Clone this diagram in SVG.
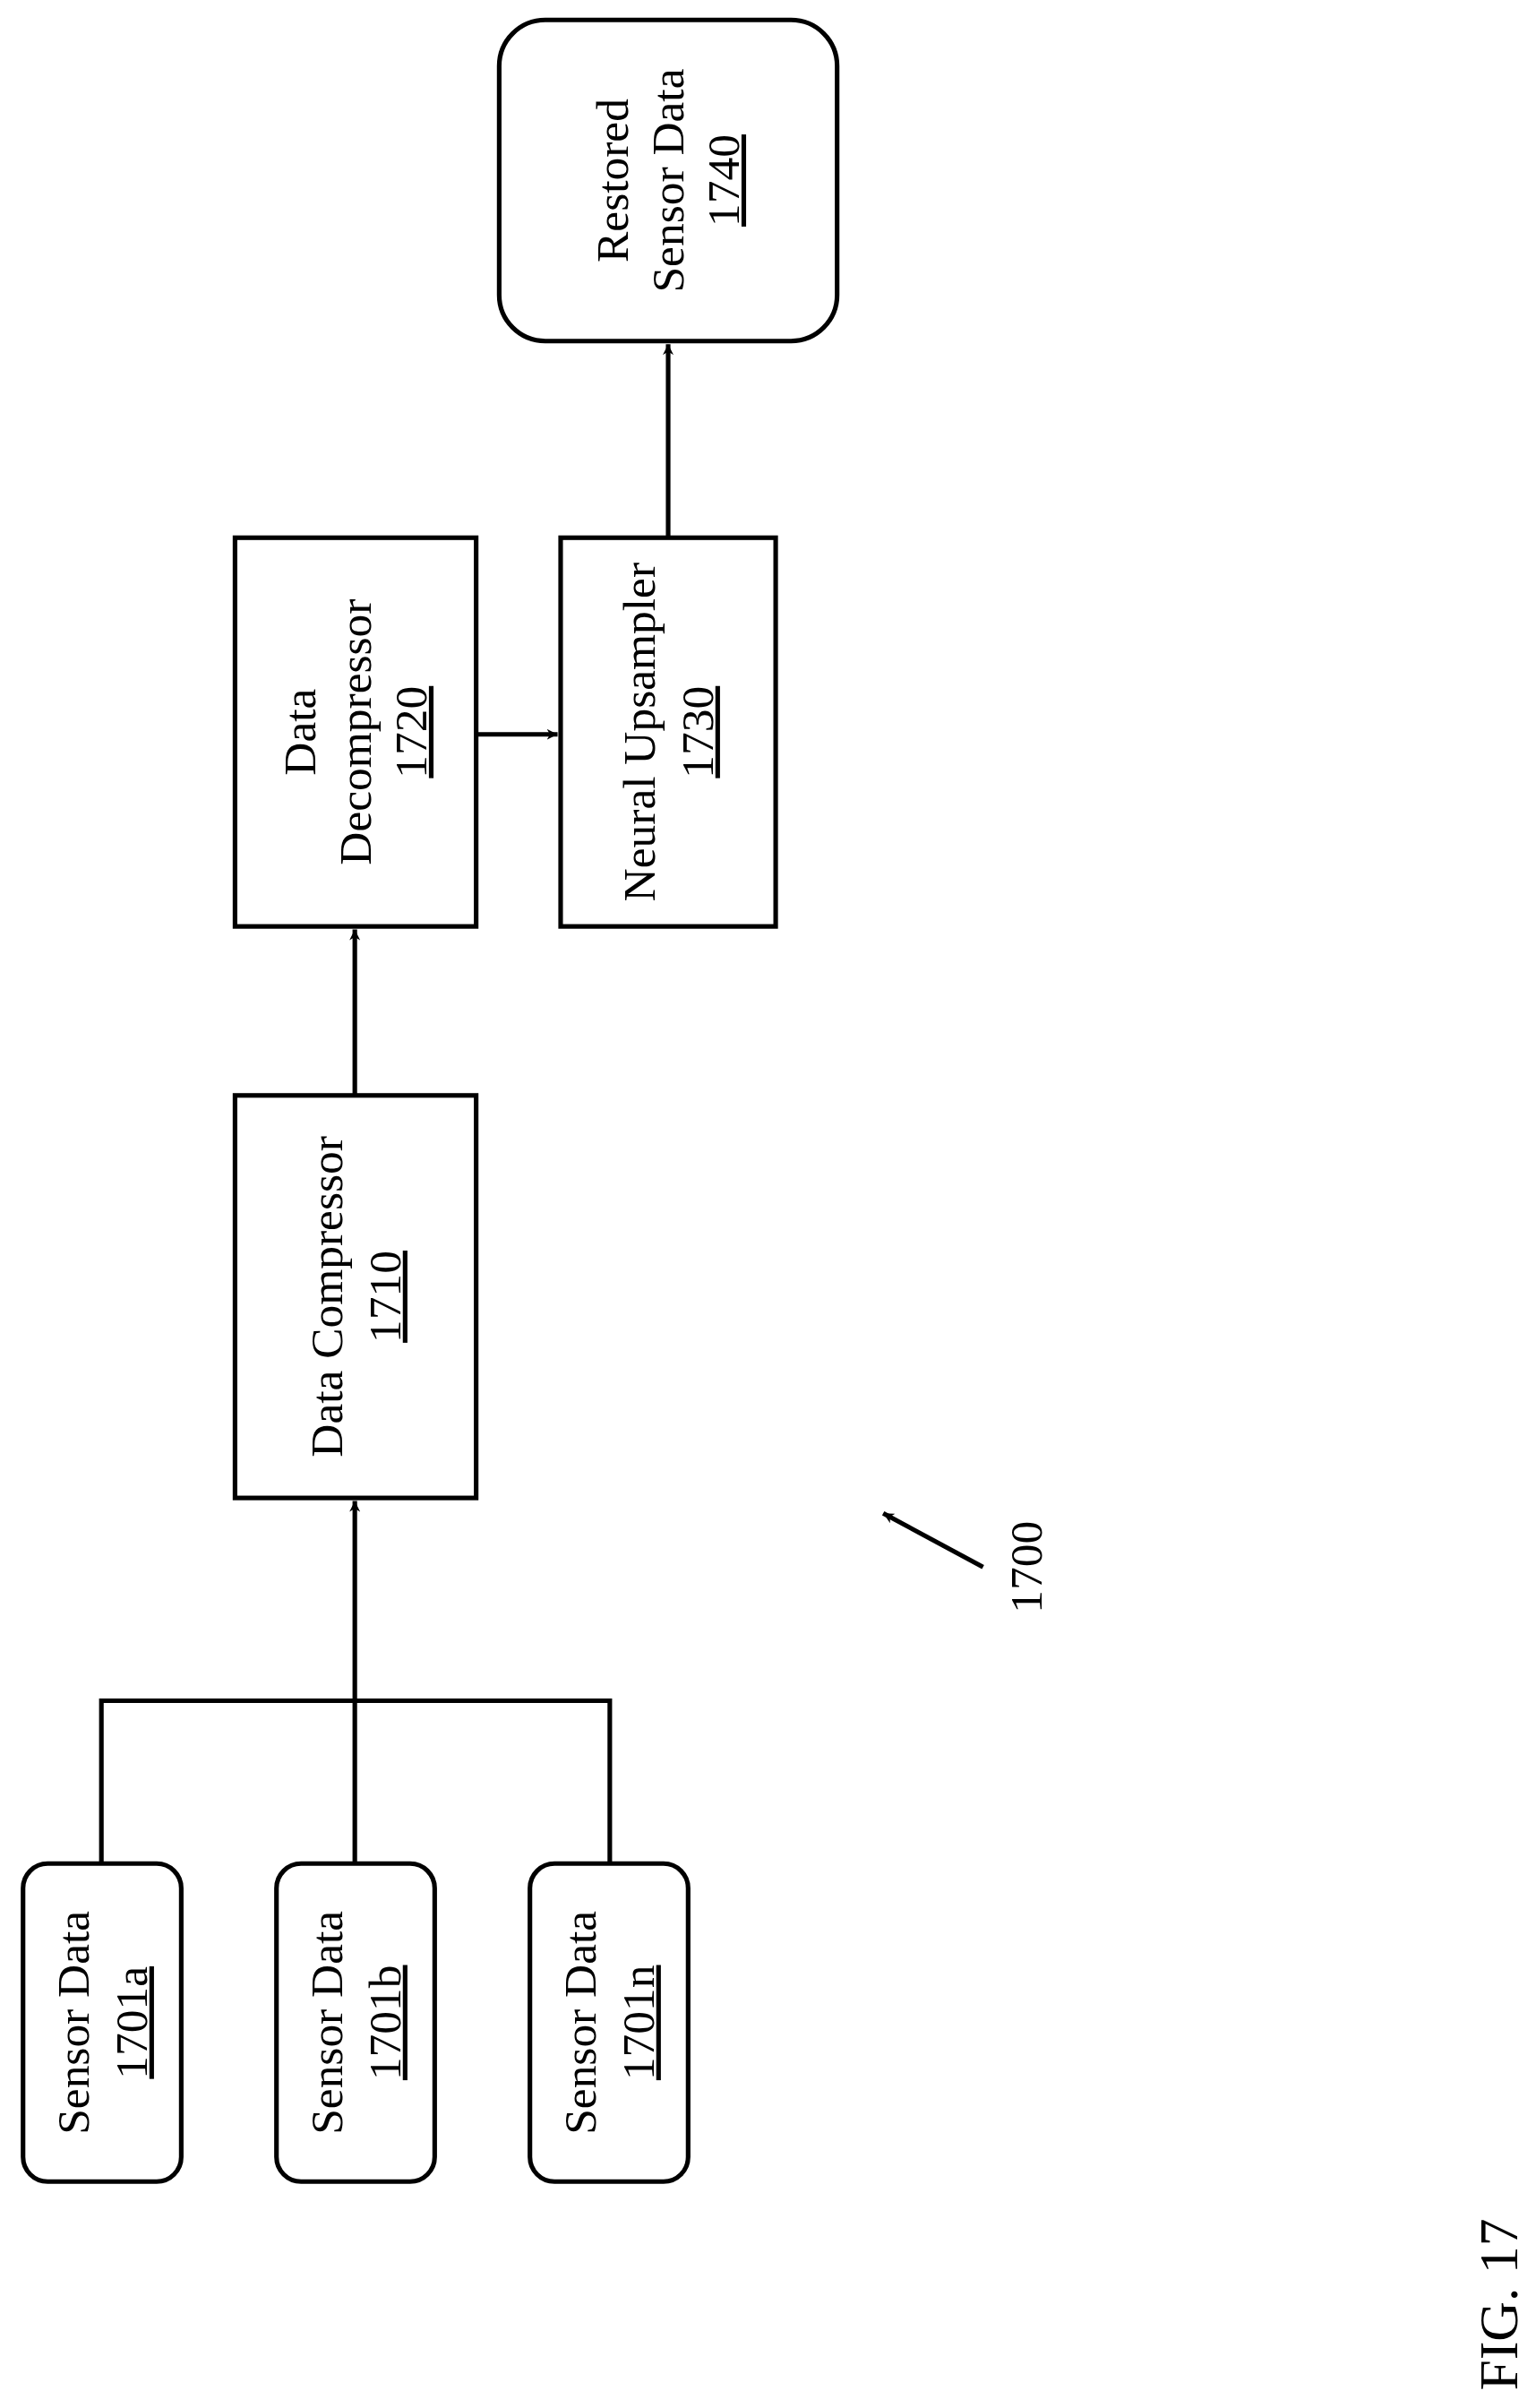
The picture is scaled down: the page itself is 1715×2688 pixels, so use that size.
<svg xmlns="http://www.w3.org/2000/svg" width="1715" height="2688" viewBox="0 0 1715 2688">
<style>
.box{fill:#fff;stroke:#000;stroke-width:3}
.ln{fill:none;stroke:#000;stroke-width:3}
text{font-family:"Liberation Serif","Times New Roman",serif;font-size:30px;fill:#000;text-anchor:middle}
.u{text-decoration:underline}
</style>
<defs>
<marker id="ah" viewBox="0 0 10 10" refX="10" refY="5" markerWidth="7" markerHeight="7" markerUnits="userSpaceOnUse" orient="auto">
<path d="M0,0 L10,5 L0,10 L3,5 z" fill="#000"/>
</marker>
</defs>
<rect width="1715" height="2688" fill="#fff"/>
<g transform="scale(1.715)">
<g id="connectors">
<path class="ln" d="M66,1213 V1107 H397 V1213"/>
<path class="ln" d="M231,1213 V977" marker-end="url(#ah)" style="--x:0"/>
<path class="ln" d="M231,713 V605" marker-end="url(#ah)"/>
<path class="ln" d="M310,478 H363" marker-end="url(#ah)"/>
<path class="ln" d="M435,350 V224" marker-end="url(#ah)"/>
<path class="ln" d="M640,1020 L575,985" marker-end="url(#ah)"/>
</g>
<g id="n1701a"><rect class="box" x="15" y="1213" width="103" height="207" rx="16"/>
<g transform="translate(66.5,1316.5) rotate(-90)"><text y="-9">Sensor Data</text><text y="29" class="u">1701a</text></g></g>
<g id="n1701b"><rect class="box" x="180" y="1213" width="103" height="207" rx="16"/>
<g transform="translate(231.5,1316.5) rotate(-90)"><text y="-9">Sensor Data</text><text y="29" class="u">1701b</text></g></g>
<g id="n1701n"><rect class="box" x="345" y="1213" width="103" height="207" rx="16"/>
<g transform="translate(396.5,1316.5) rotate(-90)"><text y="-9">Sensor Data</text><text y="29" class="u">1701n</text></g></g>
<g id="n1710"><rect class="box" x="153" y="713" width="157" height="262"/>
<g transform="translate(231.5,844) rotate(-90)"><text y="-9">Data Compressor</text><text y="29" class="u">1710</text></g></g>
<g id="n1720"><rect class="box" x="153" y="350" width="157" height="253"/>
<g transform="translate(231.5,476.5) rotate(-90)"><text y="-26">Data</text><text y="10">Decompressor</text><text y="46" class="u">1720</text></g></g>
<g id="n1730"><rect class="box" x="365" y="350" width="140" height="253"/>
<g transform="translate(435,476.5) rotate(-90)"><text y="-9">Neural Upsampler</text><text y="29" class="u">1730</text></g></g>
<g id="n1740"><rect class="box" x="325" y="13" width="220" height="209" rx="30"/>
<g transform="translate(435,117.5) rotate(-90)"><text y="-26">Restored</text><text y="10">Sensor Data</text><text y="46" class="u">1740</text></g></g>
<g id="label1700"><text transform="translate(678,1020) rotate(-90)">1700</text></g>
<g id="fig"><text transform="translate(988,1500) rotate(-90)" style="font-size:36px">FIG. 17</text></g>
</g>
</svg>
